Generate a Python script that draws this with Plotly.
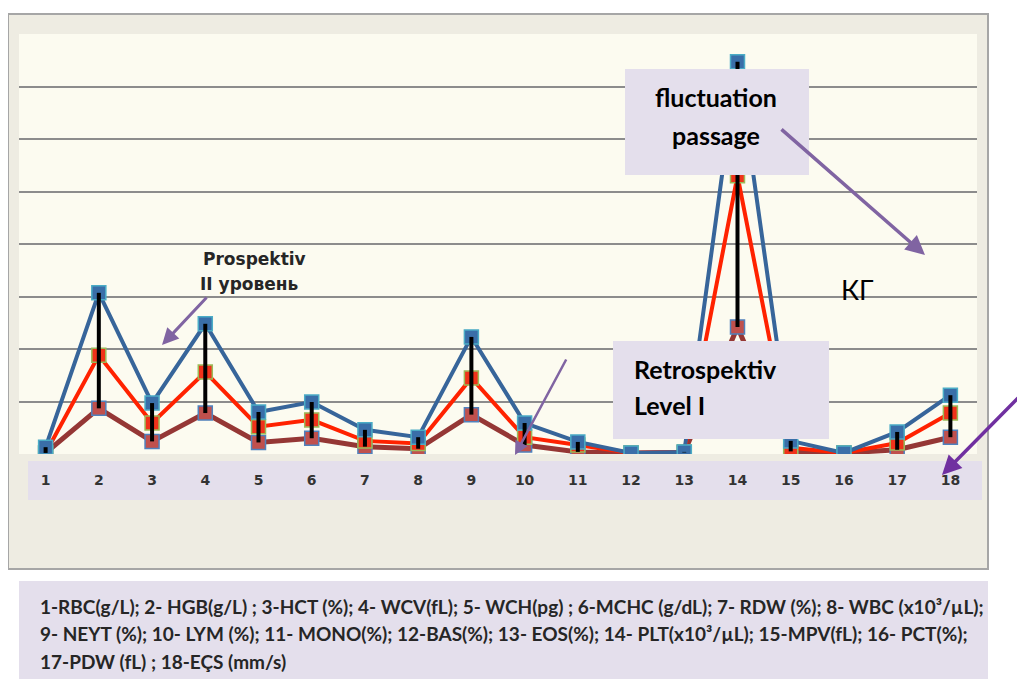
import plotly.graph_objects as go

# ---------------- data ----------------
categories = list(range(1, 19))
tick_labels = [str(c) for c in categories]
upper_series = [0.13, 3.07, 0.97, 2.48, 0.80, 0.99, 0.46, 0.32, 2.23, 0.59,
                0.23, 0.02, 0.04, 7.47, 0.25, 0.02, 0.42, 1.12]
middle_series = [0.02, 1.88, 0.59, 1.56, 0.52, 0.65, 0.25, 0.20, 1.45, 0.32,
                 0.17, 0.02, 0.04, 5.30, 0.12, 0.02, 0.21, 0.78]
lower_series = [0.02, 0.87, 0.24, 0.78, 0.22, 0.30, 0.14, 0.10, 0.75, 0.17,
                0.04, 0.02, 0.03, 2.42, 0.05, 0.02, 0.08, 0.32]
y_ticks = [0, 1, 2, 3, 4, 5, 6, 7, 8]

caption_lines = [
    "1-RBC(g/L); 2- HGB(g/L) ; 3-HCT (%); 4- WCV(fL); 5- WCH(pg) ; 6-MCHC (g/dL); 7- RDW (%); 8- WBC (x10³/µL);",
    "9- NEYT (%); 10- LYM (%); 11- MONO(%); 12-BAS(%); 13- EOS(%); 14- PLT(x10³/µL); 15-MPV(fL); 16- PCT(%);",
    "17-PDW (fL) ; 18-EÇS (mm/s)",
]

# ---------------- geometry helpers (page pixel -> paper) ----------------
OFF = 8  # page body margin
W, H = 1025 - OFF, 679 - OFF
PL, PR, PT, PB = 19, 977, 34, 454   # plot area in page pixels


def px(x):
    return (x - PL) / (PR - PL)


def py(y):
    return (PB - y) / (PB - PT)


fig = go.Figure()

fig.add_trace(go.Scatter(
    x=categories, y=lower_series, mode="lines+markers",
    line=dict(color="#953735", width=5),
    marker=dict(symbol="square", size=14, color="#C0504D",
                line=dict(color="#4F81BD", width=1.5)),
    showlegend=False, hoverinfo="skip"))
fig.add_trace(go.Scatter(
    x=categories, y=middle_series, mode="lines+markers",
    line=dict(color="#FF2200", width=4),
    marker=dict(symbol="square", size=14, color="#F0321A",
                line=dict(color="#9BBB59", width=1.5)),
    showlegend=False, hoverinfo="skip"))
fig.add_trace(go.Scatter(
    x=categories, y=upper_series, mode="lines+markers",
    line=dict(color="#37659A", width=4),
    marker=dict(symbol="square", size=14, color="#3A6EA8",
                line=dict(color="#4BACC6", width=1.5)),
    showlegend=False, hoverinfo="skip"))

# high-low lines between upper and lower series
hx, hy = [], []
for c, hi, lo in zip(categories, upper_series, lower_series):
    hx += [c, c, None]
    hy += [hi, lo, None]
fig.add_trace(go.Scatter(
    x=hx, y=hy, mode="lines", line=dict(color="#000000", width=4),
    showlegend=False, hoverinfo="skip"))

shapes = [
    # outer chart area
    dict(type="rect", xref="paper", yref="paper", layer="below",
         x0=px(8), x1=px(988), y0=py(569), y1=py(14),
         fillcolor="#EEECE2", line=dict(color="#A6A6A6", width=2)),
    # plot area
    dict(type="rect", xref="paper", yref="paper", layer="below",
         x0=0, x1=1, y0=0, y1=1, fillcolor="#FCFBF0", line=dict(width=0)),
    # label band
    dict(type="rect", xref="paper", yref="paper", layer="below",
         x0=px(28), x1=px(982), y0=py(500), y1=py(461),
         fillcolor="#E4DFEC", line=dict(width=0)),
    # caption box
    dict(type="rect", xref="paper", yref="paper", layer="below",
         x0=px(19), x1=px(988), y0=py(690), y1=py(581),
         fillcolor="#E4DFEC", line=dict(width=0)),
    # fluctuation box
    dict(type="rect", xref="paper", yref="paper", layer="above",
         x0=px(625), x1=px(809), y0=py(175), y1=py(69),
         fillcolor="#E4DFEC", line=dict(width=0)),
    # retrospektiv box
    dict(type="rect", xref="paper", yref="paper", layer="above",
         x0=px(613), x1=px(829), y0=py(439), y1=py(341),
         fillcolor="#E4DFEC", line=dict(width=0)),
]

ann = []


def text(xp, yp, s, size, family, bold=True, color="#000000", xanchor="center"):
    ann.append(dict(xref="paper", yref="paper", x=px(xp), y=py(yp),
                    text=("<b>%s</b>" % s) if bold else s, showarrow=False,
                    xanchor=xanchor, yanchor="middle",
                    font=dict(size=size, family=family, color=color)))


def arrow(hx_, hy_, tx, ty, color, width):
    ann.append(dict(xref="paper", yref="paper", x=px(hx_), y=py(hy_),
                    ax=tx - hx_, ay=ty - hy_, axref="pixel", ayref="pixel",
                    text="", showarrow=True, arrowhead=2, arrowsize=1.1,
                    arrowwidth=width, arrowcolor=color, standoff=0))


text(254, 259, "Prospektiv", 17, "DejaVu Sans", color="#262626")
text(249, 284, "II уровень", 17, "DejaVu Sans", color="#262626")
text(716, 97, "fluctuation", 25, "Lato")
text(716, 135, "passage", 25, "Lato")
text(632, 369, "Retrospektiv", 25, "Lato", xanchor="left")
text(632, 405, "Level I", 25, "Lato", xanchor="left")
text(857, 289, "КГ", 27, "Lato", bold=False)

arrow(162, 345, 208, 296, "#8064A2", 3)
arrow(515, 455, 567, 358, "#8064A2", 2.5)
arrow(925, 255, 780, 128, "#8064A2", 3.5)
arrow(942, 475, 1030, 391, "#7030A0", 3.5)

for yy, line in zip([606, 633, 661], caption_lines):
    text(38, yy, line, 19, "Lato", color="#262626", xanchor="left")

fig.update_layout(
    width=W, height=H, autosize=False,
    margin=dict(l=PL - OFF, r=W - (PR - OFF), t=PT - OFF, b=H - (PB - OFF), pad=0),
    paper_bgcolor="#FFFFFF", plot_bgcolor="rgba(0,0,0,0)",
    shapes=shapes, annotations=ann,
    xaxis=dict(range=[0.5, 18.5], tickmode="array", tickvals=categories,
               ticktext=["<b>%s</b>" % t for t in tick_labels],
               showgrid=False, zeroline=False, showline=False, ticks="",
               ticklabelstandoff=16,
               tickfont=dict(size=14, family="DejaVu Sans", color="#333333")),
    yaxis=dict(range=[0, 8], tickvals=y_ticks, showticklabels=False,
               showgrid=True, gridcolor="#8C8C8C", gridwidth=2,
               zeroline=False, showline=False, ticks=""),
)

fig.write_html("out.html")
